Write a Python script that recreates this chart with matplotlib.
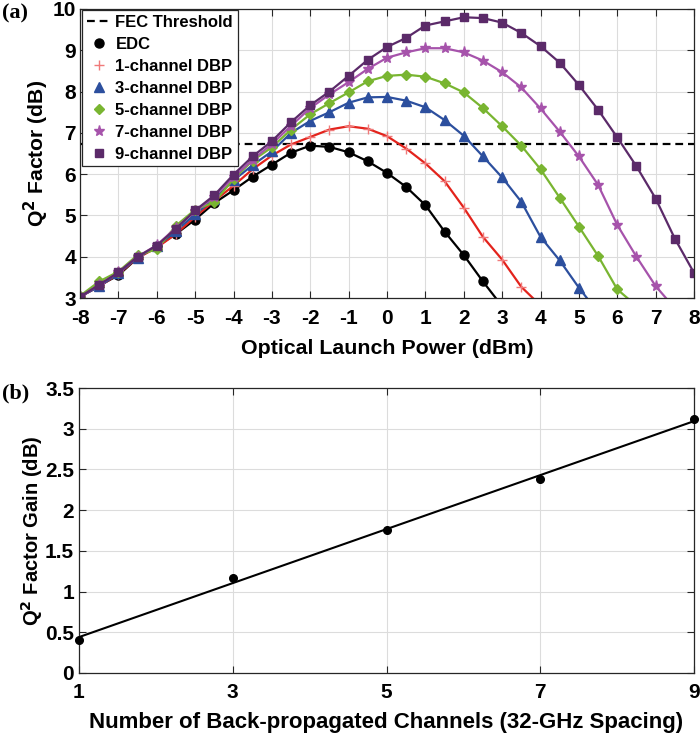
import numpy as np
import matplotlib
matplotlib.use("Agg")
import matplotlib.pyplot as plt

plt.rcParams['font.family'] = ['Liberation Sans', 'DejaVu Sans']
plt.rcParams['font.weight'] = 'bold'
plt.rcParams['axes.unicode_minus'] = False

# ---------------- data (a) ----------------
power_dbm = [-8, -7.5, -7, -6.5, -6, -5.5, -5, -4.5, -4, -3.5, -3, -2.5, -2, -1.5, -1, -0.5,
             0, 0.5, 1, 1.5, 2, 2.5, 3, 3.5, 4, 4.5, 5, 5.5, 6, 6.5, 7, 7.5, 8]

edc = [3.03, 3.30, 3.55, 3.97, 4.25, 4.55, 4.90, 5.30, 5.61, 5.94, 6.23, 6.52, 6.69, 6.66,
       6.53, 6.31, 6.03, 5.69, 5.25, 4.61, 4.04, 3.40, 2.80]
dbp1 = [3.03, 3.28, 3.58, 3.97, 4.22, 4.55, 4.97, 5.35, 5.72, 6.12, 6.45, 6.72, 6.90, 7.08,
        7.16, 7.10, 6.92, 6.62, 6.26, 5.83, 5.19, 4.48, 3.93, 3.27, 2.82]
dbp3 = [3.03, 3.28, 3.60, 3.98, 4.25, 4.62, 5.03, 5.40, 5.85, 6.22, 6.55, 7.00, 7.29, 7.50,
        7.73, 7.86, 7.87, 7.78, 7.62, 7.31, 6.93, 6.43, 5.92, 5.33, 4.48, 3.91, 3.25, 2.65]
dbp5 = [3.05, 3.40, 3.64, 4.04, 4.18, 4.75, 5.14, 5.32, 5.88, 6.33, 6.65, 7.08, 7.45, 7.72,
        7.98, 8.25, 8.38, 8.41, 8.36, 8.20, 7.98, 7.60, 7.16, 6.69, 6.12, 5.43, 4.73, 4.02,
        3.21, 2.81]
dbp7 = [3.03, 3.32, 3.62, 4.00, 4.28, 4.70, 5.10, 5.45, 5.93, 6.35, 6.73, 7.17, 7.60, 7.93,
        8.23, 8.55, 8.82, 8.95, 9.05, 9.05, 8.95, 8.75, 8.47, 8.10, 7.59, 7.03, 6.43, 5.74,
        4.77, 4.00, 3.29, 2.75]
dbp9 = [3.03, 3.32, 3.62, 4.00, 4.27, 4.68, 5.12, 5.49, 5.99, 6.43, 6.80, 7.26, 7.67, 8.00,
        8.38, 8.77, 9.08, 9.30, 9.60, 9.70, 9.80, 9.78, 9.67, 9.42, 9.10, 8.70, 8.16, 7.56,
        6.89, 6.19, 5.41, 4.44, 3.61]
fec_threshold = 6.72

series_labels = ['EDC', '1-channel DBP', '3-channel DBP', '5-channel DBP',
                 '7-channel DBP', '9-channel DBP']

# ---------------- data (b) ----------------
channels = [1, 3, 5, 7, 9]
gain_db = [0.41, 1.17, 1.755, 2.38, 3.12]
gain_ticklabels = ['0', '0.5', '1', '1.5', '2', '2.5', '3', '3.5']

# ---------------- figure ----------------
fig = plt.figure(figsize=(7.0, 7.38), dpi=100)
W, H = 700, 738
def ax_rect(l, r, t, b):
    return [l / W, 1 - b / H, (r - l) / W, (b - t) / H]

ax1 = fig.add_axes(ax_rect(80, 694, 9, 298))
ax2 = fig.add_axes(ax_rect(79, 694, 388, 673))

grid_kw = dict(color='#dcdcdc', linewidth=0.8)
for ax in (ax1, ax2):
    ax.grid(True, **grid_kw)
    ax.set_axisbelow(True)
    ax.tick_params(direction='in', top=True, right=True, length=5, width=0.8,
                   color='#262626')
    for s in ax.spines.values():
        s.set_color('#262626')
        s.set_linewidth(0.9)

ax1.tick_params(axis='x', labelsize=15, pad=8)
ax1.tick_params(axis='y', labelsize=15, pad=3)
ax2.tick_params(axis='x', labelsize=15, pad=7)
ax2.tick_params(axis='y', labelsize=15, pad=3.5)

# ---- (a)
fec_line, = ax1.plot([-8, 8], [fec_threshold, fec_threshold], color='black', lw=1.6,
                     dashes=(3.5, 2.2), label='FEC Threshold')
styles = [
    dict(color='black', marker='o', ms=6.5, mfc='black', mec='black'),
    dict(color='#e3231c', marker='+', ms=7, mfc='#f07a7a', mec='#f07a7a', mew=1.0),
    dict(color='#2c4f9e', marker='^', ms=7, mfc='#2c4f9e', mec='#2c4f9e'),
    dict(color='#79b531', marker='D', ms=5.5, mfc='#79b531', mec='#79b531'),
    dict(color='#a653ab', marker='*', ms=8, mfc='#a653ab', mec='#a653ab'),
    dict(color='#5b2a69', marker='s', ms=5.5, mfc='#5b2a69', mec='#5b2a69'),
]
all_series = [edc, dbp1, dbp3, dbp5, dbp7, dbp9]
handles = [fec_line]
for vals, lab, st in zip(all_series, series_labels, styles):
    x = power_dbm[:len(vals)]
    h, = ax1.plot(x, vals, lw=1.6, label=lab, **st)
    handles.append(h)

ax1.set_xlim(-8, 8)
ax1.set_ylim(3, 10)
ax1.set_xticks(range(-8, 9))
ax1.set_yticks(range(3, 11))
ax1.set_xlabel('Optical Launch Power (dBm)', fontsize=15.4, fontweight='bold')
ax1.xaxis.set_label_coords(0.5, -(347 - 298) / 289, transform=None) if False else None
ax1.xaxis.set_label_coords(0.5, -(358 - 298) / 289)
ax1.xaxis.label.set_va('bottom')
ax1.set_ylabel('Q$^\\mathbf{2}$ Factor (dB)', fontsize=15.2, fontweight='bold')
ax1.yaxis.set_label_coords(-(80 - 51) / 614, 0.5)

leg = ax1.legend(handles=handles, loc='upper left', bbox_to_anchor=(0.004, 0.997),
                 borderaxespad=0, fontsize=12, frameon=True, fancybox=False,
                 framealpha=1, edgecolor='#262626', handlelength=1.4,
                 handletextpad=0.3, labelspacing=0.42, borderpad=0.28)
leg.get_frame().set_linewidth(0.9)
for h in leg.legend_handles[1:]:
    h.set_linestyle('none')
for t in leg.get_texts():
    t.set_fontweight('bold')

# ---- (b)
ax2.plot(channels, gain_db, 'o', color='black', ms=5.5, clip_on=False, zorder=3)
coef = np.polyfit(channels, gain_db, 1)
xf = np.array([channels[0], channels[-1]])
ax2.plot(xf, np.polyval(coef, xf), color='black', lw=1.5)
ax2.set_xlim(1, 9)
ax2.set_ylim(0, 3.5)
ax2.set_xticks(channels)
ax2.set_yticks(np.arange(0, 3.51, 0.5))
ax2.set_yticklabels(gain_ticklabels)
ax2.set_xlabel('Number of Back-propagated Channels (32-GHz Spacing)', fontsize=16,
               fontweight='bold')
ax2.xaxis.set_label_coords(0.5, -(733 - 673) / 285)
ax2.xaxis.label.set_va('bottom')
ax2.set_ylabel('Q$^\\mathbf{2}$ Factor Gain (dB)', fontsize=14.5, fontweight='bold')
ax2.yaxis.set_label_coords(-(79 - 45) / 615, 0.5)

for ax in (ax1, ax2):
    for lab in ax.get_xticklabels() + ax.get_yticklabels():
        lab.set_fontweight('bold')

fig.text(2 / W, 1 - 13 / H, '(a)', fontsize=16, family='Liberation Serif', va='center')
fig.text(2 / W, 1 - 393 / H, '(b)', fontsize=16, family='Liberation Serif', va='center')

fig.savefig('out.png', dpi=100)
